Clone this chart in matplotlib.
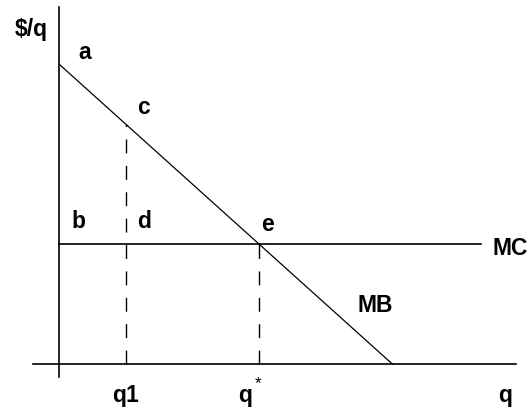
import numpy as np
import matplotlib
matplotlib.use("Agg")
from matplotlib import pyplot as plt

plt.rcParams['font.family'] = ['Liberation Sans', 'DejaVu Sans']

## Data ##
mb_intercept = 10.0      # price where MB hits the $/q axis (point a)
mb_slope = -1.0
mc_level = 4.0           # constant marginal cost
q1 = 2.0
q_star = 6.0
q_max = 10.0             # MB reaches zero here

point_labels = ['a', 'c', 'b', 'd', 'e']
point_q = [0.78, 2.52, 0.57, 2.55, 6.27]
point_p = [10.43, 8.6, 4.77, 4.77, 4.67]

fig = plt.figure(figsize=(5.29, 4.10), dpi=100)
ax = fig.add_axes([0, 0, 1, 1])
ax.set_xlim(-1.77, 14.1)
ax.set_ylim(-1.5, 12.17)
ax.axis('off')

# axes
ax.plot([0, 0], [-0.43, 11.9], color='k', lw=1.2)
ax.plot([-0.78, 13.7], [0, 0], color='k', lw=1.2)

# MB and MC
q = np.array([0, q_max])
ax.plot(q, mb_intercept + mb_slope * q, color='k', lw=0.9)
ax.plot([0, 12.65], [mc_level, mc_level], color='k', lw=1.2)

# dashed drops
dash = (0, (10, 9))
p1 = mb_intercept + mb_slope * q1
ax.plot([q1, q1], [0, p1], color='k', lw=1.0, linestyle=dash)
ax.plot([q_star, q_star], [0, mc_level], color='k', lw=1.0, linestyle=dash)

fs = 16.5
for lab, x, y in zip(point_labels, point_q, point_p):
    ax.text(x, y, lab, fontsize=fs, fontweight='bold', ha='center', va='center')

ax.text(-0.84, 11.17, '$/q', fontsize=fs, fontweight='bold', ha='center', va='center')
ax.text(13.0, 3.9, 'MC', fontsize=fs, fontweight='bold', ha='left', va='center')
ax.text(9.49, 2.0, 'MB', fontsize=fs, fontweight='bold', ha='center', va='center')
ax.text(q1, -1.03, 'q1', fontsize=fs, fontweight='bold', ha='center', va='center')
ax.text(5.57, -1.03, 'q', fontsize=fs, fontweight='bold', ha='center', va='center')
ax.text(5.98, -0.62, '*', fontsize=12.5, ha='center', va='center')
ax.text(13.39, -1.0, 'q', fontsize=fs, fontweight='bold', ha='center', va='center')

fig.savefig('out.png', dpi=100, facecolor='white')
